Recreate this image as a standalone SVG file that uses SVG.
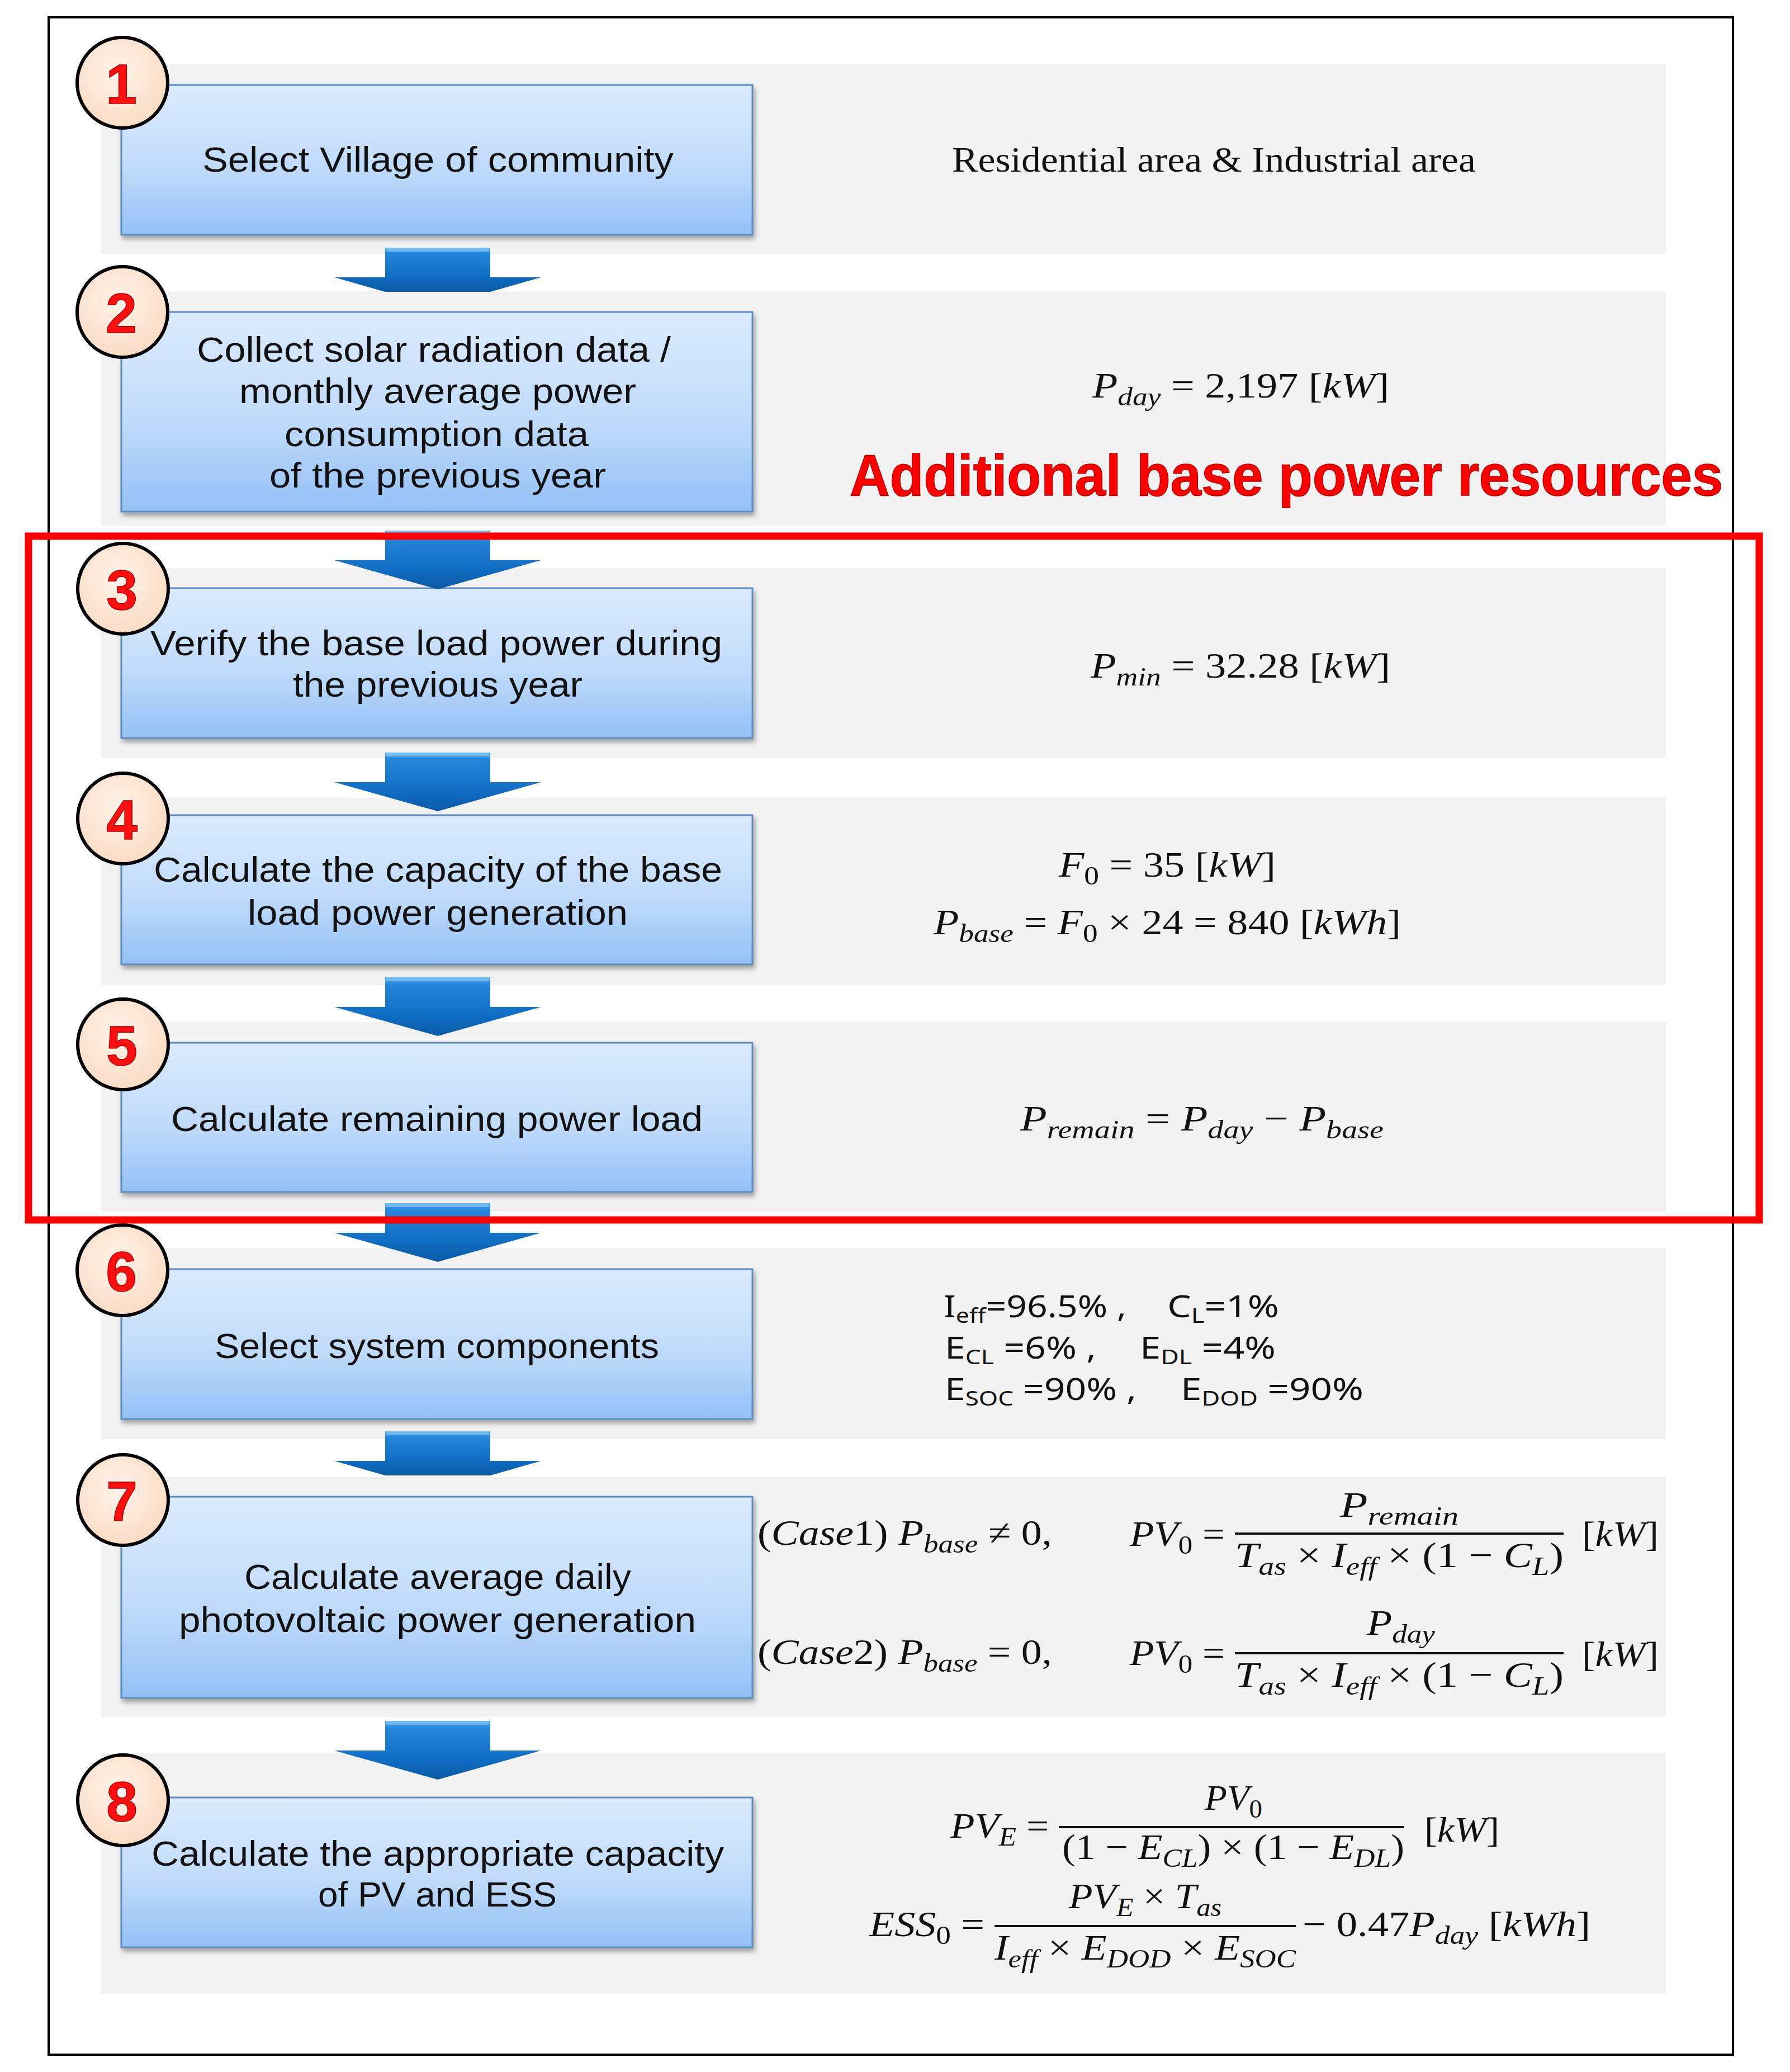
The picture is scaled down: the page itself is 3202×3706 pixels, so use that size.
<svg xmlns="http://www.w3.org/2000/svg" width="3202" height="3706" viewBox="0 0 3202 3706">
<defs>
<style>
.band{fill:#f2f2f2}
.box{fill:url(#boxg);stroke:#5b8cc0;stroke-width:3;filter:url(#sh)}
.circ{fill:url(#circg);stroke:#000;stroke-width:6}
.num{font-family:"Liberation Sans",Arial,sans-serif;font-weight:bold;font-size:100px;fill:#ff1010;stroke:#b00000;stroke-width:1.5;text-anchor:middle}
.bt{font-family:"Liberation Sans",Arial,sans-serif;font-size:63px;fill:#111}
.m{font-family:"Liberation Serif","Times New Roman",serif;font-size:64px;fill:#111}
.i{font-style:italic}
.s{font-size:46px}
.p{font-family:"Noto Sans","Open Sans",sans-serif;font-size:54px;fill:#111}
.ps{font-size:36px}
.bar{stroke:#111;stroke-width:4}
.arrow{fill:url(#arrg)}
.arrowhl{fill:#7cc0f4;opacity:0.8}
.hl{fill:none;stroke:#ff0000;stroke-width:13}
.title{font-family:"Liberation Sans",Arial,sans-serif;font-weight:bold;font-size:104px;fill:#ff0000;stroke:#b80000;stroke-width:1.5}
.frame{fill:#fff;stroke:#000;stroke-width:4}
</style>
<linearGradient id="boxg" x1="0" y1="0" x2="0" y2="1">
<stop offset="0" stop-color="#dcebfd"/>
<stop offset="0.55" stop-color="#c0dbfa"/>
<stop offset="1" stop-color="#93c0f5"/>
</linearGradient>
<radialGradient id="circg" cx="0.45" cy="0.4" r="0.6">
<stop offset="0" stop-color="#fff3ea"/>
<stop offset="1" stop-color="#fbdcc4"/>
</radialGradient>
<linearGradient id="arrg" x1="0" y1="0" x2="0" y2="1">
<stop offset="0" stop-color="#4ea8ee"/>
<stop offset="0.12" stop-color="#2586db"/>
<stop offset="0.6" stop-color="#1270c6"/>
<stop offset="1" stop-color="#0a5aa6"/>
</linearGradient>
<filter id="sh" x="-5%" y="-5%" width="110%" height="120%">
<feDropShadow dx="3" dy="6" stdDeviation="4" flood-color="#000" flood-opacity="0.35"/>
</filter>
<path id="arrowFull" class="arrow" d="M-94,0 H94 V53 H185 L0,105 L-185,53 H-94 Z"/>
<path id="arrowCut" class="arrow" d="M-94,0 H94 V53 H185 L94,79 H-94 L-185,53 H-94 Z"/>
</defs>

<rect x="0" y="0" width="3202" height="3706" fill="#fff"/>
<rect class="frame" x="87" y="31" width="3013" height="3644"/>

<g id="step1">
<rect class="band" x="181" y="115" width="2799" height="340"/>
<rect class="box" x="217" y="152" width="1129" height="268"/>
<circle class="circ" cx="219" cy="148" r="81"/>
<text class="num" x="217" y="185">1</text>
<text class="bt" x="362" y="307" textLength="843" lengthAdjust="spacingAndGlyphs">Select Village of community</text>
<text class="m" x="1703" y="307" font-size="62" textLength="937" lengthAdjust="spacingAndGlyphs">Residential area &amp; Industrial area</text>
</g>

<g id="step2">
<rect class="band" x="181" y="521" width="2799" height="419"/>
<rect class="box" x="217" y="558" width="1129" height="357"/>
<circle class="circ" cx="219" cy="558" r="81"/>
<text class="num" x="217" y="595">2</text>
<text class="bt" x="352" y="647" textLength="848" lengthAdjust="spacingAndGlyphs">Collect solar radiation data /</text>
<text class="bt" x="428" y="721" textLength="710" lengthAdjust="spacingAndGlyphs">monthly average power</text>
<text class="bt" x="509" y="798" textLength="544" lengthAdjust="spacingAndGlyphs">consumption data</text>
<text class="bt" x="482" y="872" textLength="602" lengthAdjust="spacingAndGlyphs">of the previous year</text>
<text class="m" x="1954" y="711" textLength="531" lengthAdjust="spacingAndGlyphs"><tspan class="i">P</tspan><tspan class="i s" dy="14">day</tspan><tspan dy="-14"> = 2,197 [</tspan><tspan class="i">kW</tspan><tspan>]</tspan></text>
</g>

<g id="step3">
<rect class="band" x="181" y="1016" width="2799" height="340"/>
<rect class="box" x="217" y="1052" width="1129" height="268"/>
<circle class="circ" cx="220" cy="1053" r="81"/>
<text class="num" x="218" y="1090">3</text>
<text class="bt" x="269" y="1172" textLength="1023" lengthAdjust="spacingAndGlyphs">Verify the base load power during</text>
<text class="bt" x="524" y="1246" textLength="518" lengthAdjust="spacingAndGlyphs">the previous year</text>
<text class="m" x="1951" y="1212" textLength="536" lengthAdjust="spacingAndGlyphs"><tspan class="i">P</tspan><tspan class="i s" dy="14">min</tspan><tspan dy="-14"> = 32.28 [</tspan><tspan class="i">kW</tspan><tspan>]</tspan></text>
</g>

<g id="step4">
<rect class="band" x="181" y="1427" width="2799" height="335"/>
<rect class="box" x="217" y="1458" width="1129" height="267"/>
<circle class="circ" cx="220" cy="1464" r="81"/>
<text class="num" x="218" y="1501">4</text>
<text class="bt" x="275" y="1577" textLength="1017" lengthAdjust="spacingAndGlyphs">Calculate the capacity of the base</text>
<text class="bt" x="443" y="1654" textLength="680" lengthAdjust="spacingAndGlyphs">load power generation</text>
<text class="m" x="1894" y="1568" textLength="388" lengthAdjust="spacingAndGlyphs"><tspan class="i">F</tspan><tspan class="s" dy="14">0</tspan><tspan dy="-14"> = 35 [</tspan><tspan class="i">kW</tspan><tspan>]</tspan></text>
<text class="m" x="1670" y="1671" textLength="836" lengthAdjust="spacingAndGlyphs"><tspan class="i">P</tspan><tspan class="i s" dy="14">base</tspan><tspan dy="-14"> = </tspan><tspan class="i">F</tspan><tspan class="s" dy="14">0</tspan><tspan dy="-14"> × 24 = 840 [</tspan><tspan class="i">kWh</tspan><tspan>]</tspan></text>
</g>

<g id="step5">
<rect class="band" x="181" y="1828" width="2799" height="339"/>
<rect class="box" x="217" y="1865" width="1129" height="267"/>
<circle class="circ" cx="220" cy="1868" r="81"/>
<text class="num" x="218" y="1905">5</text>
<text class="bt" x="306" y="2023" textLength="951" lengthAdjust="spacingAndGlyphs">Calculate remaining power load</text>
<text class="m" x="1825" y="2022" textLength="650" lengthAdjust="spacingAndGlyphs"><tspan class="i">P</tspan><tspan class="i s" dy="14">remain</tspan><tspan dy="-14"> = </tspan><tspan class="i">P</tspan><tspan class="i s" dy="14">day</tspan><tspan dy="-14"> − </tspan><tspan class="i">P</tspan><tspan class="i s" dy="14">base</tspan></text>
</g>

<g id="step6">
<rect class="band" x="181" y="2232" width="2799" height="341"/>
<rect class="box" x="217" y="2270" width="1129" height="268"/>
<circle class="circ" cx="219" cy="2272" r="81"/>
<text class="num" x="217" y="2309">6</text>
<text class="bt" x="384" y="2429" textLength="795" lengthAdjust="spacingAndGlyphs">Select system components</text>
<text class="p" x="1688" y="2356" textLength="327" lengthAdjust="spacingAndGlyphs">I<tspan class="ps" dy="10">eff</tspan><tspan dy="-10">=96.5% ,</tspan></text>
<text class="p" x="2088" y="2356" textLength="200" lengthAdjust="spacingAndGlyphs">C<tspan class="ps" dy="10">L</tspan><tspan dy="-10">=1%</tspan></text>
<text class="p" x="1690" y="2430" textLength="271" lengthAdjust="spacingAndGlyphs">E<tspan class="ps" dy="10">CL</tspan><tspan dy="-10"> =6% ,</tspan></text>
<text class="p" x="2039" y="2430" textLength="243" lengthAdjust="spacingAndGlyphs">E<tspan class="ps" dy="10">DL</tspan><tspan dy="-10"> =4%</tspan></text>
<text class="p" x="1690" y="2504" textLength="343" lengthAdjust="spacingAndGlyphs">E<tspan class="ps" dy="10">SOC</tspan><tspan dy="-10"> =90% ,</tspan></text>
<text class="p" x="2112" y="2504" textLength="327" lengthAdjust="spacingAndGlyphs">E<tspan class="ps" dy="10">DOD</tspan><tspan dy="-10"> =90%</tspan></text>
</g>

<g id="step7">
<rect class="band" x="181" y="2641" width="2799" height="430"/>
<rect class="box" x="217" y="2677" width="1129" height="360"/>
<circle class="circ" cx="220" cy="2683" r="81"/>
<text class="num" x="218" y="2720">7</text>
<text class="bt" x="437" y="2842" textLength="692" lengthAdjust="spacingAndGlyphs">Calculate average daily</text>
<text class="bt" x="320" y="2919" textLength="925" lengthAdjust="spacingAndGlyphs">photovoltaic power generation</text>
<text class="m" x="1355" y="2763" textLength="527" lengthAdjust="spacingAndGlyphs">(<tspan class="i">Case</tspan>1) <tspan class="i">P</tspan><tspan class="i s" dy="14">base</tspan><tspan dy="-14"> ≠ 0,</tspan></text>
<text class="m" x="2021" y="2765" textLength="170" lengthAdjust="spacingAndGlyphs"><tspan class="i">PV</tspan><tspan class="s" dy="14">0</tspan><tspan dy="-14"> =</tspan></text>
<line class="bar" x1="2209" y1="2743" x2="2797" y2="2743"/>
<text class="m" x="2397" y="2713" textLength="212" lengthAdjust="spacingAndGlyphs"><tspan class="i">P</tspan><tspan class="i s" dy="14">remain</tspan></text>
<text class="m" x="2209" y="2803" textLength="588" lengthAdjust="spacingAndGlyphs"><tspan class="i">T</tspan><tspan class="i s" dy="14">as</tspan><tspan dy="-14"> × </tspan><tspan class="i">I</tspan><tspan class="i s" dy="14">eff</tspan><tspan dy="-14"> × (1 − </tspan><tspan class="i">C</tspan><tspan class="i s" dy="14">L</tspan><tspan dy="-14">)</tspan></text>
<text class="m" x="2830" y="2765" textLength="137" lengthAdjust="spacingAndGlyphs">[<tspan class="i">kW</tspan>]</text>
<text class="m" x="1355" y="2976" textLength="527" lengthAdjust="spacingAndGlyphs">(<tspan class="i">Case</tspan>2) <tspan class="i">P</tspan><tspan class="i s" dy="14">base</tspan><tspan dy="-14"> = 0,</tspan></text>
<text class="m" x="2021" y="2978" textLength="170" lengthAdjust="spacingAndGlyphs"><tspan class="i">PV</tspan><tspan class="s" dy="14">0</tspan><tspan dy="-14"> =</tspan></text>
<line class="bar" x1="2209" y1="2957" x2="2797" y2="2957"/>
<text class="m" x="2445" y="2924" textLength="122" lengthAdjust="spacingAndGlyphs"><tspan class="i">P</tspan><tspan class="i s" dy="14">day</tspan></text>
<text class="m" x="2209" y="3017" textLength="588" lengthAdjust="spacingAndGlyphs"><tspan class="i">T</tspan><tspan class="i s" dy="14">as</tspan><tspan dy="-14"> × </tspan><tspan class="i">I</tspan><tspan class="i s" dy="14">eff</tspan><tspan dy="-14"> × (1 − </tspan><tspan class="i">C</tspan><tspan class="i s" dy="14">L</tspan><tspan dy="-14">)</tspan></text>
<text class="m" x="2830" y="2980" textLength="137" lengthAdjust="spacingAndGlyphs">[<tspan class="i">kW</tspan>]</text>
</g>

<g id="step8">
<rect class="band" x="181" y="3136" width="2799" height="430"/>
<rect class="box" x="217" y="3215" width="1129" height="268"/>
<circle class="circ" cx="220" cy="3220" r="81"/>
<text class="num" x="218" y="3257">8</text>
<text class="bt" x="271" y="3337" textLength="1024" lengthAdjust="spacingAndGlyphs">Calculate the appropriate capacity</text>
<text class="bt" x="569" y="3410" textLength="427" lengthAdjust="spacingAndGlyphs">of PV and ESS</text>
<text class="m" x="1700" y="3287" textLength="176" lengthAdjust="spacingAndGlyphs"><tspan class="i">PV</tspan><tspan class="i s" dy="14">E</tspan><tspan dy="-14"> =</tspan></text>
<line class="bar" x1="1894" y1="3268" x2="2512" y2="3268"/>
<text class="m" x="2155" y="3237" textLength="103" lengthAdjust="spacingAndGlyphs"><tspan class="i">PV</tspan><tspan class="s" dy="14">0</tspan></text>
<text class="m" x="1900" y="3325" textLength="612" lengthAdjust="spacingAndGlyphs">(1 − <tspan class="i">E</tspan><tspan class="i s" dy="14">CL</tspan><tspan dy="-14">) × (1 − </tspan><tspan class="i">E</tspan><tspan class="i s" dy="14">DL</tspan><tspan dy="-14">)</tspan></text>
<text class="m" x="2548" y="3294" textLength="134" lengthAdjust="spacingAndGlyphs">[<tspan class="i">kW</tspan>]</text>
<text class="m" x="1555" y="3463" textLength="206" lengthAdjust="spacingAndGlyphs"><tspan class="i">ESS</tspan><tspan class="s" dy="14">0</tspan><tspan dy="-14"> =</tspan></text>
<line class="bar" x1="1779" y1="3445" x2="2318" y2="3445"/>
<text class="m" x="1912" y="3413" textLength="273" lengthAdjust="spacingAndGlyphs"><tspan class="i">PV</tspan><tspan class="i s" dy="14">E</tspan><tspan dy="-14"> × </tspan><tspan class="i">T</tspan><tspan class="i s" dy="14">as</tspan></text>
<text class="m" x="1779" y="3505" textLength="539" lengthAdjust="spacingAndGlyphs"><tspan class="i">I</tspan><tspan class="i s" dy="14">eff</tspan><tspan dy="-14"> × </tspan><tspan class="i">E</tspan><tspan class="i s" dy="14">DOD</tspan><tspan dy="-14"> × </tspan><tspan class="i">E</tspan><tspan class="i s" dy="14">SOC</tspan></text>
<text class="m" x="2330" y="3463" textLength="515" lengthAdjust="spacingAndGlyphs">− 0.47<tspan class="i">P</tspan><tspan class="i s" dy="14">day</tspan><tspan dy="-14"> [</tspan><tspan class="i">kWh</tspan><tspan>]</tspan></text>
</g>

<g id="connectors">
<use href="#arrowCut" x="783" y="443"/>
<use href="#arrowFull" x="783" y="949"/>
<use href="#arrowFull" x="783" y="1346"/>
<use href="#arrowFull" x="783" y="1748"/>
<use href="#arrowFull" x="783" y="2152"/>
<use href="#arrowCut" x="783" y="2560"/>
<use href="#arrowFull" x="783" y="3078"/>
<g class="arrowhl">
<rect x="691" y="443" width="184" height="7"/>
<rect x="691" y="949" width="184" height="7"/>
<rect x="691" y="1346" width="184" height="7"/>
<rect x="691" y="1748" width="184" height="7"/>
<rect x="691" y="2152" width="184" height="7"/>
<rect x="691" y="2560" width="184" height="7"/>
<rect x="691" y="3078" width="184" height="7"/>
</g>
</g>

<g id="highlight">
<rect class="hl" x="51" y="959" width="3096" height="1223"/>
<text class="title" x="1520" y="886" textLength="1562" lengthAdjust="spacingAndGlyphs">Additional base power resources</text>
</g>
</svg>
